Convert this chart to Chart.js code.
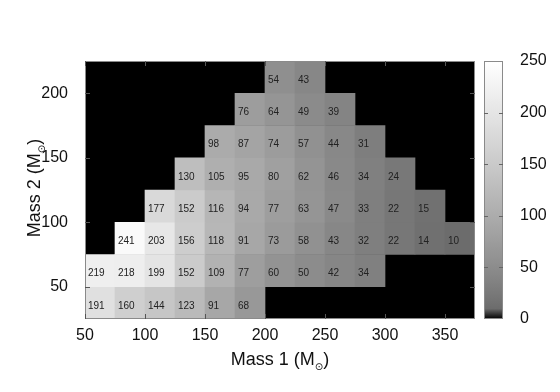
<!DOCTYPE html>
<html>
<head>
<meta charset="utf-8">
<script src="https://cdn.jsdelivr.net/npm/chart.js@4"></script>
<style>
body { margin: 0; background: #fff; }
</style>
</head>
<body>
<canvas id="chart" width="560" height="392"></canvas>
<script>
// bin edges in solar masses
const mass1Edges = [50, 75, 100, 125, 150, 175, 200, 225, 250, 275, 300, 325, 350, 375];
const mass2Edges = [25, 50, 75, 100, 125, 150, 175, 200, 225];

// counts for each Mass 2 bin, one value per Mass 1 bin (null = empty cell)
const counts25  = [191, 160, 144, 123, 91, 68, null, null, null, null, null, null, null];
const counts50  = [219, 218, 199, 152, 109, 77, 60, 50, 42, 34, null, null, null];
const counts75  = [null, 241, 203, 156, 118, 91, 73, 58, 43, 32, 22, 14, 10];
const counts100 = [null, null, 177, 152, 116, 94, 77, 63, 47, 33, 22, 15, null];
const counts125 = [null, null, null, 130, 105, 95, 80, 62, 46, 34, 24, null, null];
const counts150 = [null, null, null, null, 98, 87, 74, 57, 44, 31, null, null, null];
const counts175 = [null, null, null, null, null, 76, 64, 49, 39, null, null, null, null];
const counts200 = [null, null, null, null, null, null, 54, 43, null, null, null, null, null];
const countRows = [counts25, counts50, counts75, counts100, counts125, counts150, counts175, counts200];

const xTicks = [50, 100, 150, 200, 250, 300, 350];
const yTicks = [50, 100, 150, 200];
const cbTicks = [0, 50, 100, 150, 200, 250];
const cbMax = 250;

const FONT = "'Liberation Sans', Arial, sans-serif";

function grayLevel(v) {
    return Math.round(96 + 159 * Math.pow(v / cbMax, 0.8));
}
function shade(v) {
    const g = grayLevel(v);
    return `rgb(${g},${g},${g})`;
}

const cells = [];
countRows.forEach((row, j) => {
    row.forEach((v, i) => {
        if (v === null) return;
        cells.push({
            x: (mass1Edges[i] + mass1Edges[i + 1]) / 2,
            y: [mass2Edges[j], mass2Edges[j + 1]],
            v: v
        });
    });
});

const heatPlugin = {
    id: 'heat',
    beforeDatasetsDraw(chart) {
        const a = chart.chartArea;
        const ctx = chart.ctx;
        ctx.save();
        ctx.fillStyle = '#000';
        ctx.fillRect(a.left, a.top, a.right - a.left, a.bottom - a.top);
        ctx.restore();
    },
    afterDatasetsDraw(chart) {
        const ctx = chart.ctx;
        const a = chart.chartArea;
        const meta = chart.getDatasetMeta(0);

        // values in the cells
        ctx.save();
        ctx.font = '10px ' + FONT;
        ctx.fillStyle = '#222';
        ctx.textBaseline = 'middle';
        ctx.textAlign = 'left';
        meta.data.forEach((el, i) => {
            const cy = (el.y + el.base) / 2 + 3;
            ctx.fillText(String(cells[i].v), el.x - el.width / 2 + 3, cy);
        });
        ctx.restore();

        // frame and inside ticks
        ctx.save();
        ctx.strokeStyle = '#8a8a8a';
        ctx.lineWidth = 1;
        ctx.strokeRect(a.left + 0.5, a.top + 0.5, a.right - a.left - 1, a.bottom - a.top - 1);
        ctx.strokeStyle = '#555';
        ctx.beginPath();
        xTicks.forEach(v => {
            const px = Math.round(chart.scales.x.getPixelForValue(v)) + 0.5;
            ctx.moveTo(px, a.bottom); ctx.lineTo(px, a.bottom - 5);
            ctx.moveTo(px, a.top); ctx.lineTo(px, a.top + 5);
        });
        yTicks.forEach(v => {
            const py = Math.round(chart.scales.y.getPixelForValue(v)) + 0.5;
            ctx.moveTo(a.left, py); ctx.lineTo(a.left + 5, py);
            ctx.moveTo(a.right, py); ctx.lineTo(a.right - 5, py);
        });
        ctx.stroke();
        ctx.restore();
    },
    afterDraw(chart) {
        const ctx = chart.ctx;
        const a = chart.chartArea;
        const cb = chart.scales.cb;

        // colour bar
        const left = a.right + 9, w = 19;
        const y0 = cb.getPixelForValue(0), y1 = cb.getPixelForValue(cbMax);
        const grad = ctx.createLinearGradient(0, y0, 0, y1);
        grad.addColorStop(0, '#000');
        for (let t = 0.04; t <= 1.0001; t += 0.04) {
            grad.addColorStop(Math.min(t, 1), shade(t * cbMax));
        }
        ctx.save();
        ctx.fillStyle = grad;
        ctx.fillRect(left, y1, w, y0 - y1);
        ctx.strokeStyle = '#8a8a8a';
        ctx.strokeRect(left + 0.5, y1 + 0.5, w - 1, y0 - y1 - 1);
        ctx.strokeStyle = '#666';
        ctx.beginPath();
        cbTicks.slice(1, -1).forEach(v => {
            const py = Math.round(cb.getPixelForValue(v)) + 0.5;
            ctx.moveTo(left, py); ctx.lineTo(left + 4, py);
            ctx.moveTo(left + w, py); ctx.lineTo(left + w - 4, py);
        });
        ctx.stroke();
        ctx.restore();

        // axis titles with subscript sun symbol
        function title(x, y, rot, main, sub) {
            ctx.save();
            ctx.translate(x, y);
            ctx.rotate(rot);
            ctx.fillStyle = '#111';
            ctx.textBaseline = 'alphabetic';
            ctx.textAlign = 'left';
            ctx.font = '18px ' + FONT;
            const w1 = ctx.measureText(main).width;
            const w3 = ctx.measureText(')').width;
            ctx.font = '10px DejaVu Sans';
            const w2 = ctx.measureText(sub).width;
            const total = w1 + w2 + w3;
            let cx = -total / 2;
            ctx.font = '18px ' + FONT;
            ctx.fillText(main, cx, 0);
            cx += w1;
            ctx.font = '10px DejaVu Sans';
            ctx.fillText(sub, cx, 5);
            cx += w2;
            ctx.font = '18px ' + FONT;
            ctx.fillText(')', cx, 0);
            ctx.restore();
        }
        title((a.left + a.right) / 2, 365, 0, 'Mass 1 (M', '\u2299');
        title(40, (a.top + a.bottom) / 2 - 2, -Math.PI / 2, 'Mass 2 (M', '\u2299');
    }
};

const tickFont = { family: FONT, size: 16 };

new Chart(document.getElementById('chart'), {
    type: 'bar',
    data: {
        datasets: [{
            data: cells,
            backgroundColor: ctx => shade(ctx.raw.v),
            borderWidth: 0,
            barPercentage: 1,
            categoryPercentage: 1,
            grouped: false
        }]
    },
    options: {
        responsive: false,
        animation: false,
        layout: { padding: { top: 61, left: 0, right: 0, bottom: 0 } },
        plugins: { legend: { display: false }, tooltip: { enabled: false } },
        scales: {
            x: {
                type: 'linear',
                min: 50, max: 375,
                offset: false,
                grid: { display: false },
                border: { display: false },
                ticks: { color: '#111', font: tickFont, padding: -1, maxRotation: 0 },
                afterBuildTicks: s => { s.ticks = xTicks.map(v => ({ value: v })); },
                afterFit: s => { s.height = 73; }
            },
            y: {
                type: 'linear',
                min: 25, max: 225,
                grid: { display: false },
                border: { display: false },
                ticks: { color: '#111', font: tickFont, padding: 9 },
                afterBuildTicks: s => { s.ticks = yTicks.map(v => ({ value: v })); },
                afterFit: s => { s.width = 85; }
            },
            cb: {
                type: 'linear',
                position: 'right',
                min: 0, max: cbMax,
                grid: { display: false },
                border: { display: false },
                ticks: { color: '#111', font: tickFont, padding: 37 },
                afterBuildTicks: s => { s.ticks = cbTicks.map(v => ({ value: v })); },
                afterFit: s => { s.width = 85; }
            }
        }
    },
    plugins: [heatPlugin]
});
</script>
</body>
</html>
